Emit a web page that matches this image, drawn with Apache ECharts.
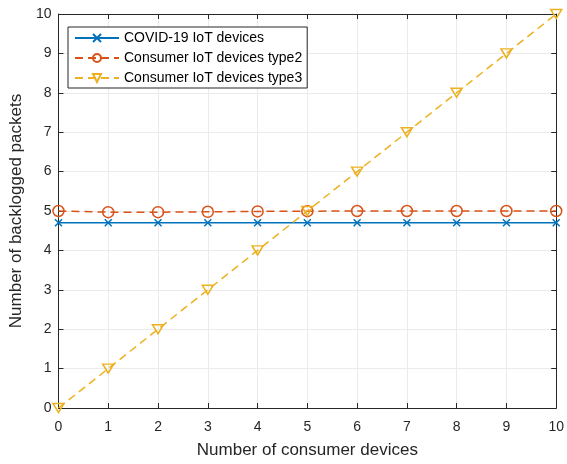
<!DOCTYPE html>
<html><head><meta charset="utf-8">
<script src="https://cdn.jsdelivr.net/npm/echarts@6/dist/echarts.min.js"></script>
<style>html,body{margin:0;padding:0;background:#fff}#c{width:567px;height:464px}</style>
</head><body><div id="c"></div>
<script>
const categories = [0,1,2,3,4,5,6,7,8,9,10];
const covid = [4.7,4.7,4.7,4.7,4.7,4.7,4.7,4.7,4.7,4.7,4.7];
const type2 = [5.0,4.97,4.97,4.98,4.99,4.995,5.0,5.0,5.0,5.0,5.0];
const type3 = [0,1,2,3,4,5,6,7,8,9,10];
const names = ['COVID-19 IoT devices','Consumer IoT devices type2','Consumer IoT devices type3'];
const F = 'Liberation Sans, Arial, Helvetica, sans-serif';
const pairs = a => categories.map((x,i)=>[x,a[i]]);
const chart = echarts.init(document.getElementById('c'));
const axBase = {
  min:0,max:10,interval:1,
  axisLine:{show:true,onZero:false,lineStyle:{color:'#262626',width:1}},
  axisTick:{show:true,inside:true,length:5,lineStyle:{color:'#262626'}},
  splitLine:{show:false}
};
chart.setOption({
  animation:false,
  grid:{left:55,right:8,top:14,bottom:52,containLabel:false},
  legend:{
    orient:'vertical',left:68,top:27,itemWidth:44,itemHeight:10,itemGap:6,
    padding:[4,5,3,6],
    backgroundColor:'#fff',borderColor:'#262626',borderWidth:1,
    textStyle:{fontFamily:F,fontSize:14,color:'#000',lineHeight:14},
    data:names
  },
  xAxis:[
    Object.assign({},axBase,{type:'value',position:'bottom',
      name:'Number of consumer devices',nameLocation:'middle',nameGap:34,
      nameTextStyle:{fontFamily:F,fontSize:17,color:'#262626'},
      axisLabel:{fontFamily:F,fontSize:14,color:'#262626',margin:12},
      splitLine:{show:true,lineStyle:{color:'#ebebeb',width:1}}}),
    Object.assign({},axBase,{type:'value',position:'top',axisLabel:{show:false}})
  ],
  yAxis:[
    Object.assign({},axBase,{type:'value',position:'left',
      name:'Number of backlogged packets',nameLocation:'middle',nameGap:27,
      nameTextStyle:{fontFamily:F,fontSize:17,color:'#262626'},
      axisLabel:{fontFamily:F,fontSize:14,color:'#262626',margin:7},
      splitLine:{show:true,lineStyle:{color:'#ebebeb',width:1}}}),
    Object.assign({},axBase,{type:'value',position:'right',axisLabel:{show:false}})
  ],
  series:[
    {name:names[0],type:'line',data:pairs(covid),
     symbol:'path://M0,0L10,10M10,0L0,10',symbolSize:7,
     itemStyle:{color:'#0072BD',borderColor:'#0072BD',borderWidth:1.5},
     lineStyle:{color:'#0072BD',width:1.5},z:3},
    {name:names[1],type:'line',data:pairs(type2),
     symbol:'circle',symbolSize:11,
     itemStyle:{color:'rgba(255,255,255,0)',borderColor:'#D95319',borderWidth:1.5},
     lineStyle:{color:'#D95319',width:1.5,type:[8,5]},z:4},
    {name:names[2],type:'line',data:pairs(type3),
     symbol:'triangle',symbolRotate:180,symbolSize:[11,9],
     itemStyle:{color:'rgba(255,255,255,0)',borderColor:'#EDB120',borderWidth:1.5},
     lineStyle:{color:'#EDB120',width:1.5,type:[8,5]},z:5}
  ]
});
</script></body></html>
